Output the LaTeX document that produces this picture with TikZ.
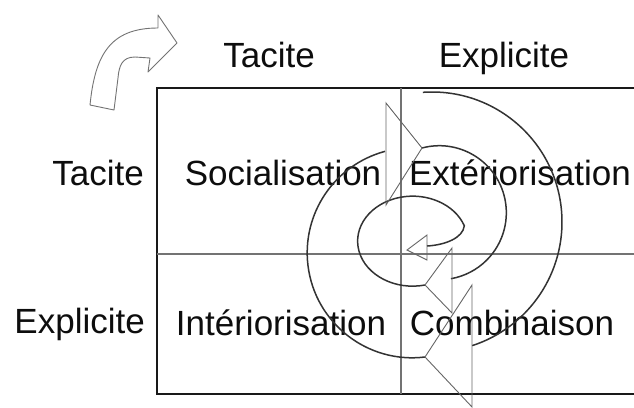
\documentclass[tikz,border=0pt]{standalone}
\usepackage{fontspec}
\setmainfont{Liberation Sans}
\usepackage{xcolor}
\usepackage{tikz}
\usetikzlibrary{calc}

\begin{document}
\begin{tikzpicture}[
    x=1pt, y=-1pt,
    lbl/.style={anchor=base, text=black!95, font=\fontsize{35}{40}\selectfont, inner sep=0pt},
    rowlbl/.style={lbl, anchor=base east},
    frame/.style={draw=black!90, line width=2.6pt},
    divider/.style={draw=black!55, line width=1.3pt},
    spiral/.style={draw=black!80, line width=1.5pt},
    head/.style={draw=black!60, line width=0.9pt, line join=miter},
    bent/.style={draw=black!55, line width=0.9pt, line join=round}
]
\clip (0,0) rectangle (634,407);
\fill[white] (0,0) rectangle (634,407);

\draw[bent] (90,105) .. controls (95,55) and (110,28) .. (158,28) -- (158,15) -- (177,43) -- (148,72) -- (150,58)
    -- (135,57) .. controls (122,57) and (119,66) .. (118,78) -- (114,110) -- cycle;

\node[lbl] (ctac) at (269,67) {Tacite};
\node[lbl] (cexp) at (504,67) {Explicite};
\node[rowlbl] (rtac) at (144,185) {Tacite};
\node[rowlbl] (rexp) at (145,333) {Explicite};

\draw[frame] (157,88) rectangle (660,394);
\draw[divider] (401,88) -- (401,394);
\draw[divider] (157,254) -- (634,254);

\node[lbl] (soc) at (283,185) {Socialisation};
\node[lbl] (ext) at (520,185) {Extériorisation};
\node[lbl] (int) at (281,335) {Intériorisation};
\node[lbl] (comb) at (512,335) {Combinaison};

\coordinate (aU) at (386,103);
\coordinate (aT) at (422,148);
\coordinate (aL) at (386,205);
\coordinate (bU) at (427,235);
\coordinate (bM) at (427,246);
\coordinate (bT) at (407,250);
\coordinate (bL) at (427,260);
\coordinate (cU) at (452,248);
\coordinate (cT) at (425,285);
\coordinate (cL) at (452,313);
\coordinate (dU) at (472,285);
\coordinate (dT) at (425,357);
\coordinate (dL) at (472,407);

\draw[spiral] ($(432,222)+(-94:130)$) arc[start angle=-94, end angle=72, radius=130];
\draw[spiral] (dT) arc[start angle=83, end angle=255, radius=105];
\draw[spiral] (aT) arc[start angle=-105, end angle=80, radius=67];
\draw[spiral] (cT) arc[start angle=77, end angle=340, x radius=55, y radius=45]
    .. controls (463,238) and (445,245) .. (bM);

\draw[head] (aU) -- (aT) -- (aL) -- cycle;
\draw[head] (bU) -- (bT) -- (bL) -- cycle;
\draw[head] (cU) -- (cT) -- (cL) -- cycle;
\draw[head] (dU) -- (dT) -- (dL) -- cycle;
\end{tikzpicture}
\end{document}
